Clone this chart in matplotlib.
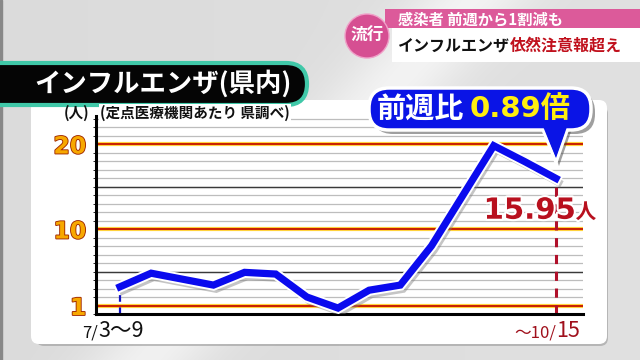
import matplotlib
matplotlib.use("Agg")
import matplotlib.pyplot as plt
import matplotlib.patheffects as pe
from matplotlib.patches import FancyBboxPatch, Circle, Polygon, Rectangle
from matplotlib.ticker import MultipleLocator
import numpy as np

plt.rcParams['font.family'] = ['Noto Sans CJK JP', 'DejaVu Sans']

# ---- data ----
weeks = ["7/3〜9", "7/10〜16", "7/17〜23", "7/24〜30", "7/31〜8/6", "8/7〜13", "8/14〜20",
         "8/21〜27", "8/28〜9/3", "9/4〜10", "9/11〜17", "9/18〜24", "9/25〜10/1",
         "10/2〜8", "10/9〜15"]
values = [3.2, 4.8, 4.1, 3.4, 4.9, 4.7, 2.0, 0.7, 2.8, 3.4, 8.0, 13.9, 19.8, 17.92, 15.95]
ytick_values = [1, 10, 20]
ytick_labels = ["1", "10", "20"]
first_label = "7/3〜9"
last_label = "〜10/15"
ratio_label = "0.89倍"
title = "インフルエンザ(県内)"
unit_label = "(人)"
source_label = "(定点医療機関あたり 県調べ)"
header_top = "感染者 前週から1割減も"
header_black = "インフルエンザ"
header_red = "依然注意報超え"
badge = "流行"

W, H = 640, 360
fig = plt.figure(figsize=(W / 100, H / 100), dpi=100)

# ---- background layer (pixel coords) ----
bg = fig.add_axes([0, 0, 1, 1], zorder=0)
bg.set_xlim(0, W)
bg.set_ylim(H, 0)
bg.axis('off')
yy, xx = np.mgrid[0:H, 0:W]
d = (xx + yy * 0.9)
grad = 0.86 + 0.08 * np.exp(-((d - 470) / 60.0) ** 2) + 0.02 * (xx / W)
grad = np.clip(grad, 0, 1)
bg.imshow(np.dstack([grad, grad, grad]), extent=(0, W, H, 0), aspect='auto', zorder=0)
bg.add_patch(Rectangle((0, 0), 2, H, color='#888888', zorder=1))

# white panel with shadow
bg.add_patch(FancyBboxPatch((36, 106), 572, 240, boxstyle="round,pad=0,rounding_size=8",
                            fc='#9a9a9a', ec='none', alpha=0.6, zorder=1))
bg.add_patch(FancyBboxPatch((31, 100), 576, 244, boxstyle="round,pad=0,rounding_size=8",
                            fc='white', ec='none', zorder=2))

# title pill
bg.add_patch(FancyBboxPatch((-30, 63), 337, 42, boxstyle="round,pad=0,rounding_size=21",
                            fc='#050505', ec='#40c8a8', lw=3, zorder=3))
bg.text(34, 84, title, color='white', fontsize=19, fontweight='bold',
        ha='left', va='center', zorder=4)

# header
bg.add_patch(Rectangle((385, 9), 260, 19, fc='#dc5a9a', ec='none', zorder=3))
bg.add_patch(Rectangle((392, 28), 250, 34, fc='white', ec='none', zorder=3))
bg.add_patch(Circle((367, 36), 22, fc='#d64f92', ec='#f0a0c8', lw=1, zorder=4))
bg.text(367, 36, badge, color='white', fontsize=12, fontweight='bold',
        ha='center', va='center', zorder=5)
bg.text(398, 19, header_top, color='white', fontsize=11, fontweight='bold',
        ha='left', va='center', zorder=5)
t1 = bg.text(398, 46, header_black, color='#111111', fontsize=11.5, fontweight='bold',
             ha='left', va='center', zorder=5)
bg.annotate(header_red, xy=(1, 0.5), xycoords=t1, xytext=(0, 0), textcoords='offset points',
            color='#c0101c', fontsize=11.5, fontweight='bold', ha='left', va='center', zorder=5)

# ---- chart axes ----
x0_px, x14_px = 120, 556
step = (x14_px - x0_px) / 14
left_px, right_px = 96, 583
bottom_px, top_px = 314, 116
ppu = 8.5
ax = fig.add_axes([left_px / W, 1 - bottom_px / H, (right_px - left_px) / W,
                   (bottom_px - top_px) / H], zorder=2)
ax.patch.set_alpha(0)
ax.set_xlim(-(x0_px - left_px) / step, 14 + (right_px - x14_px) / step)
ax.set_ylim(0, (bottom_px - top_px) / ppu)

x = np.arange(len(values))

# grid
ax.yaxis.set_minor_locator(MultipleLocator(1))
ax.grid(which='minor', axis='y', color='#bdbdbd', lw=0.9, zorder=1)
for yv in [5, 15]:
    ax.axhline(yv, color='#3a3a3a', lw=1.0, zorder=2)
for yv in ytick_values:
    ax.axhline(yv, color='#ffd23c', lw=3.0, zorder=2)
    ax.axhline(yv, color='#c81e00', lw=1.4, zorder=2)

for s in ['top', 'right']:
    ax.spines[s].set_visible(False)
for s in ['left', 'bottom']:
    ax.spines[s].set_color('black')
    ax.spines[s].set_linewidth(2.2)
    ax.spines[s].set_zorder(3)

# dashed markers
ax.plot([x[0], x[0]], [0, values[0] - 1.0], color='#1010c0', lw=1.6, ls=(0, (3, 2.5)), zorder=3)
ax.plot([x[-1], x[-1]], [0, values[-1] - 0.6], color='#b0102a', lw=2.2, ls=(0, (3, 2.5)), zorder=3)

# main line
ax.plot(x, values, color='#0a0aee', lw=5.2, solid_joinstyle='miter', zorder=5,
        path_effects=[pe.SimpleLineShadow(offset=(2, -3), shadow_color='#808080', alpha=0.45),
                      pe.Stroke(linewidth=8.0, foreground='white'), pe.Normal()])

# ticks
ax.set_yticks(ytick_values)
ax.set_yticklabels(ytick_labels)
ax.tick_params(axis='y', length=0, pad=7)
for lbl in ax.get_yticklabels():
    lbl.set_color('#f7a800')
    lbl.set_fontsize(17)
    lbl.set_fontweight('bold')
    lbl.set_fontfamily('DejaVu Sans')
    lbl.set_path_effects([pe.Stroke(linewidth=1.3, foreground='#a02800'), pe.Normal()])
ax.set_xticks([])

# x labels
fl = ax.annotate(first_label[:2], xy=(x[0], 0), xytext=(-27, -20), textcoords='offset points',
                 ha='left', va='bottom', fontsize=12, color='#111111')
ax.annotate(first_label[2:], xy=(1, 0), xycoords=fl, xytext=(0, 0), textcoords='offset points',
            ha='left', va='bottom', fontsize=15.5, color='#111111')
ll = ax.annotate(last_label[-2:], xy=(x[-1], 0), xytext=(17, -20), textcoords='offset points',
                 ha='right', va='bottom', fontsize=15.5, color='#a0101c')
ax.annotate(last_label[:-2], xy=(0, 0), xycoords=ll, xytext=(0, 0), textcoords='offset points',
            ha='right', va='bottom', fontsize=12, color='#a0101c')

# unit & source
ax.annotate(unit_label, xy=(0, 1), xycoords='axes fraction', xytext=(-14, 2),
            textcoords='offset points', ha='center', va='center', fontsize=10.5,
            fontweight='bold', color='#111111')
ax.annotate(source_label, xy=(0, 1), xycoords='axes fraction', xytext=(3, 2),
            textcoords='offset points', ha='left', va='center', fontsize=10.5,
            fontweight='bold', color='#111111',
            bbox=dict(fc='white', ec='none', pad=1))

# value label
vt = ax.text(x[-1] - 0.85, values[-1] - 3.8, f"{values[-1]:.2f}", ha='center', va='center',
             fontsize=21, fontweight='bold', color='#b8101e', fontfamily='DejaVu Sans', zorder=6,
             path_effects=[pe.Stroke(linewidth=3, foreground='white'), pe.Normal()])
ax.annotate("人", xy=(1, 0.08), xycoords=vt, xytext=(0, 0), textcoords='offset points',
            ha='left', va='bottom', fontsize=15, fontweight='bold', color='#b8101e', zorder=6,
            path_effects=[pe.Stroke(linewidth=3, foreground='white'), pe.Normal()])

# ---- callout overlay (pixel coords) ----
ov = fig.add_axes([0, 0, 1, 1], zorder=4)
ov.set_xlim(0, W)
ov.set_ylim(H, 0)
ov.axis('off')
ov.patch.set_alpha(0)
ov.add_patch(FancyBboxPatch((373, 92), 222, 42, boxstyle="round,pad=0,rounding_size=20",
                            fc='#404040', ec='none', alpha=0.5, zorder=1))
ov.add_patch(Polygon([(545, 126), (573, 126), (559, 166)], closed=True, fc='#404040',
                     ec='none', alpha=0.5, zorder=1))
ov.add_patch(Polygon([(540, 122), (570, 122), (556, 162)], closed=True, fc='#0a14e6',
                     ec='white', lw=2.5, zorder=2, joinstyle='miter'))
ov.add_patch(FancyBboxPatch((369, 88), 222, 42, boxstyle="round,pad=0,rounding_size=20",
                            fc='#0a14e6', ec='white', lw=2.5, zorder=3))
ov.add_patch(Polygon([(542, 124), (568, 124), (556, 158)], closed=True, fc='#0a14e6',
                     ec='none', zorder=4))
ct = ov.text(377, 109, "前週比", color='white', fontsize=21, fontweight='bold',
             ha='left', va='center', zorder=5)
ov.annotate(ratio_label, xy=(1, 0.5), xycoords=ct, xytext=(4, 0), textcoords='offset points',
            color='#ffee10', fontsize=21, fontweight='bold', ha='left', va='center', zorder=5,
            family=['DejaVu Sans', 'Noto Sans CJK JP'])

fig.savefig("out.png", dpi=100)
